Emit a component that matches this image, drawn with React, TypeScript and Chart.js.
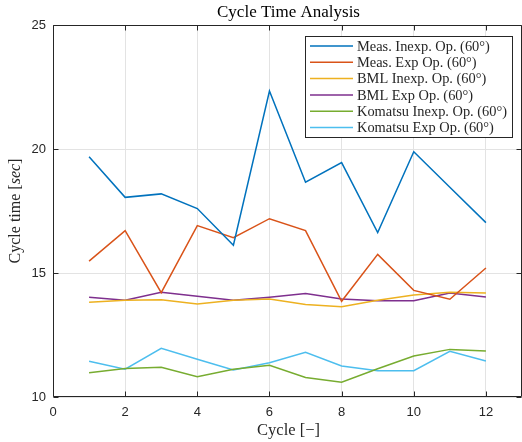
import React, { useEffect, useRef } from "react";
import { Chart, registerables } from "chart.js";
Chart.register(...registerables);

const titleText = "Cycle Time Analysis";
const xLabel = "Cycle [\u2212]";
const yLabelMain = "Cycle time [";
const yLabelUnit = "sec";
const yLabelEnd = "]";

const cycles = [1, 2, 3, 4, 5, 6, 7, 8, 9, 10, 11, 12];
const measInexp = [19.69, 18.05, 18.19, 17.6, 16.12, 22.34, 18.66, 19.45, 16.63, 19.89, 18.46, 17.03];
const measExp = [15.48, 16.71, 14.21, 16.91, 16.42, 17.19, 16.71, 13.86, 15.75, 14.3, 13.94, 15.2];
const bmlInexp = [13.82, 13.9, 13.92, 13.75, 13.9, 13.95, 13.73, 13.64, 13.9, 14.11, 14.22, 14.19];
const bmlExp = [14.02, 13.9, 14.22, 14.06, 13.9, 14.02, 14.17, 13.95, 13.88, 13.88, 14.19, 14.03];
const komInexp = [10.98, 11.15, 11.2, 10.82, 11.12, 11.28, 10.79, 10.6, 11.14, 11.65, 11.92, 11.85];
const komExp = [11.44, 11.12, 11.96, 11.52, 11.09, 11.38, 11.8, 11.25, 11.06, 11.06, 11.84, 11.45];

const seriesLabels = [
  "Meas. Inexp. Op. (60\u00B0)",
  "Meas. Exp Op. (60\u00B0)",
  "BML Inexp. Op. (60\u00B0)",
  "BML Exp Op. (60\u00B0)",
  "Komatsu Inexp. Op. (60\u00B0)",
  "Komatsu Exp Op. (60\u00B0)",
];
const seriesColors = ["#0072BD", "#D95319", "#EDB120", "#7E2F8E", "#77AC30", "#4DBEEE"];

const xTicks = [0, 2, 4, 6, 8, 10, 12];
const yTicks = [10, 15, 20, 25];
const xMin = 0;
const xMax = 13;
const yMin = 10;
const yMax = 25;

const AXIS = "#262626";
const SERIF = '"Liberation Serif", "DejaVu Serif", serif';
const SANS = '"Liberation Sans", Arial, sans-serif';

export default function App() {
  const ref = useRef<HTMLCanvasElement>(null);
  useEffect(() => {
    const series = [measInexp, measExp, bmlInexp, bmlExp, komInexp, komExp];
    const frame = {
      id: "frame",
      afterDraw(chart: any) {
        const { ctx, chartArea: a, scales } = chart;
        ctx.save();
        ctx.strokeStyle = AXIS;
        ctx.lineWidth = 1;
        const L = Math.round(a.left) + 0.5;
        const R = Math.round(a.right) - 0.5;
        const T = Math.round(a.top) + 0.5;
        const B = Math.round(a.bottom) - 0.5;
        ctx.beginPath();
        ctx.moveTo(L, T); ctx.lineTo(R, T); ctx.lineTo(R, B); ctx.lineTo(L, B); ctx.closePath();
        ctx.stroke();
        const tl = 5;
        ctx.beginPath();
        xTicks.forEach((v) => {
          const p = Math.round(scales.x.getPixelForValue(v)) + 0.5;
          ctx.moveTo(p, B); ctx.lineTo(p, B - tl);
          ctx.moveTo(p, T); ctx.lineTo(p, T + tl);
        });
        yTicks.forEach((v) => {
          const p = Math.round(scales.y.getPixelForValue(v)) + 0.5;
          ctx.moveTo(L, p); ctx.lineTo(L + tl, p);
          ctx.moveTo(R, p); ctx.lineTo(R - tl, p);
        });
        ctx.stroke();

        // title
        ctx.fillStyle = "#000";
        ctx.font = `17px ${SERIF}`;
        ctx.textAlign = "center";
        ctx.textBaseline = "middle";
        ctx.fillText(titleText, (a.left + a.right) / 2 + 1, 13);

        // axis titles
        ctx.fillStyle = AXIS;
        ctx.font = `16.5px ${SERIF}`;
        ctx.fillText(xLabel, (a.left + a.right) / 2 + 1, 431);

        ctx.save();
        ctx.translate(16, (a.top + a.bottom) / 2);
        ctx.rotate(-Math.PI / 2);
        const fN = `16px ${SERIF}`;
        const fI = `italic 16px ${SERIF}`;
        ctx.font = fN; const w1 = ctx.measureText(yLabelMain).width;
        ctx.font = fI; const w2 = ctx.measureText(yLabelUnit).width;
        ctx.font = fN; const w3 = ctx.measureText(yLabelEnd).width;
        let x0 = -(w1 + w2 + w3) / 2;
        ctx.textAlign = "left";
        ctx.font = fN; ctx.fillText(yLabelMain, x0, 0); x0 += w1;
        ctx.font = fI; ctx.fillText(yLabelUnit, x0, 0); x0 += w2;
        ctx.font = fN; ctx.fillText(yLabelEnd, x0, 0);
        ctx.restore();

        // legend
        const lx = 305.5, ly = 36.5, lw = 207, lh = 101;
        ctx.fillStyle = "#ffffff";
        ctx.fillRect(lx, ly, lw, lh);
        ctx.strokeStyle = AXIS;
        ctx.lineWidth = 1;
        ctx.strokeRect(lx, ly, lw, lh);
        ctx.font = `14.4px ${SERIF}`;
        ctx.textAlign = "left";
        ctx.textBaseline = "middle";
        seriesLabels.forEach((lab, i) => {
          const yy = 46 + i * 16.3;
          ctx.strokeStyle = seriesColors[i];
          ctx.lineWidth = 1.5;
          ctx.beginPath();
          ctx.moveTo(310, yy); ctx.lineTo(353, yy);
          ctx.stroke();
          ctx.fillStyle = AXIS;
          ctx.fillText(lab, 357, yy + 1);
        });
        ctx.restore();
      },
    };

    const chart = new Chart(ref.current as HTMLCanvasElement, {
      type: "line",
      data: {
        datasets: series.map((arr, i) => ({
          label: seriesLabels[i],
          data: cycles.map((c, j) => ({ x: c, y: arr[j] })),
          borderColor: seriesColors[i],
          backgroundColor: seriesColors[i],
          borderWidth: 1.5,
          pointRadius: 0,
          tension: 0,
          fill: false,
        })),
      },
      options: {
        responsive: false,
        animation: false,
        layout: { padding: { left: 0, right: 0, top: 25, bottom: 0 } },
        plugins: {
          legend: { display: false },
          tooltip: { enabled: false },
          title: { display: false },
        },
        scales: {
          x: {
            type: "linear",
            min: xMin,
            max: xMax,
            afterBuildTicks: (s: any) => { s.ticks = xTicks.map((v) => ({ value: v })); },
            afterFit: (s: any) => { s.height = 45; },
            grid: { color: "#e3e3e3", drawTicks: false },
            border: { display: false },
            ticks: { padding: 8, color: AXIS, font: { family: SANS, size: 13 }, maxRotation: 0 },
          },
          y: {
            type: "linear",
            min: yMin,
            max: yMax,
            afterBuildTicks: (s: any) => { s.ticks = yTicks.map((v) => ({ value: v })); },
            afterFit: (s: any) => { s.width = 53; },
            grid: { color: "#e3e3e3", drawTicks: false },
            border: { display: false },
            ticks: { padding: 7, color: AXIS, font: { family: SANS, size: 13 } },
          },
        },
      },
      plugins: [frame],
    });
    return () => chart.destroy();
  }, []);

  return (
    <div style={{ position: "fixed", left: 0, top: 0, width: 522, height: 442, background: "#fff" }}>
      <canvas ref={ref} width={522} height={442} style={{ width: 522, height: 442, display: "block" }} />
    </div>
  );
}
